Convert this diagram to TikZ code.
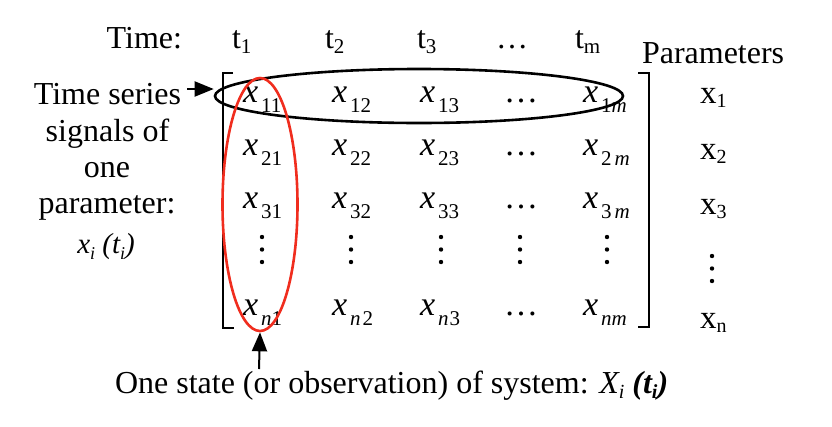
\documentclass[tikz,border=0pt]{standalone}
\usepackage{fontspec}
\setmainfont{Liberation Serif}
\usetikzlibrary{shapes.geometric,arrows.meta}
\newcommand\fs[1]{\fontsize{#1}{#1}\selectfont}
\newcommand\mx[1]{{\fs{34}\itshape x}\kern3pt\raisebox{-10pt}{\fs{21}#1}}
\newcommand\px[1]{{\fs{33}x}\raisebox{-4pt}{\fs{20}#1}}
\newcommand\tx[1]{{\fs{32}t}\raisebox{-5pt}{\fs{21}#1}}
\newcommand\hd{{\fs{34}\ldots}}
\begin{document}
\begin{tikzpicture}[x=1pt,y=-1pt,
  lbl/.style={inner sep=0pt, outer sep=0pt, anchor=base},
  ent/.style={inner sep=0pt, outer sep=0pt, anchor=base west},
  brk/.style={line width=1.8pt, black},
  arr/.style={line width=2pt, -{Triangle[length=19pt,width=15pt]}},
  rowring/.style={ellipse, draw=black, line width=2.6pt, inner sep=0pt},
  colring/.style={ellipse, draw=redring, line width=2.6pt, inner sep=0pt},
  vdot/.style={fill=black}]
\definecolor{redring}{RGB}{240,45,30}
\path[use as bounding box] (0,0) rectangle (832,426);
% header
\node[lbl, anchor=base east] (time) at (182,48) {\fs{32}Time:};
\node[ent] (t1) at (232,48) {\tx{1}};
\node[ent] (t2) at (325,48) {\tx{2}};
\node[ent] (t3) at (417,48) {\tx{3}};
\node[ent] (tdots) at (496,48) {\fs{32}\ldots};
\node[ent] (tm) at (575,48) {\tx{m}};
\node[ent] (params) at (642,63) {\fs{32}Parameters};
% left text
\node[lbl] (l1) at (107.5,104) {\fs{32}Time series};
\node[lbl] (l2) at (107.5,141) {\fs{32}signals of};
\node[lbl] (l3) at (107,177) {\fs{32}one};
\node[lbl] (l4) at (107,213) {\fs{32}parameter:};
\node[lbl] (l5) at (106,253) {\fs{29}\itshape x\raisebox{-6pt}{\fs{18}i} (t\raisebox{-6pt}{\fs{18}i})};
% matrix entries
\node[ent] (e11) at (243,102) {\mx{11}};
\node[ent] (e12) at (332,102) {\mx{12}};
\node[ent] (e13) at (420,102) {\mx{13}};
\node[ent] (e14) at (504,102) {\hd};
\node[ent] (e15) at (583,102) {\mx{1{\itshape m}}};
\node[ent] (e21) at (243,155) {\mx{21}};
\node[ent] (e22) at (332,155) {\mx{22}};
\node[ent] (e23) at (420,155) {\mx{23}};
\node[ent] (e24) at (504,155) {\hd};
\node[ent] (e25) at (583,155) {\mx{2\kern3pt{\itshape m}}};
\node[ent] (e31) at (243,208) {\mx{31}};
\node[ent] (e32) at (332,208) {\mx{32}};
\node[ent] (e33) at (420,208) {\mx{33}};
\node[ent] (e34) at (504,208) {\hd};
\node[ent] (e35) at (583,208) {\mx{3\kern3pt{\itshape m}}};
\node[ent] (en1) at (243,315) {\mx{{\itshape n}1}};
\node[ent] (en2) at (332,315) {\mx{{\itshape n}\kern2pt 2}};
\node[ent] (en3) at (420,315) {\mx{{\itshape n}\kern1pt 3}};
\node[ent] (en4) at (504,315) {\hd};
\node[ent] (en5) at (583,315) {\mx{{\itshape nm}}};
% vertical dots
\foreach \cx in {262,351,441,520,607}{
  \foreach \cy in {237,249.5,262}{\fill[vdot] (\cx,\cy) circle (2.2);}}
\foreach \cy in {256,268.5,281}{\fill[vdot] (712,\cy) circle (2.2);}
% parameters column
\node[ent] (p1) at (700,103) {\px{1}};
\node[ent] (p2) at (700,159) {\px{2}};
\node[ent] (p3) at (700,214) {\px{3}};
\node[ent] (pn) at (700,328) {\px{n}};
% brackets
\draw[brk] (233,73) -- (223,73) -- (223,328) -- (234,328);
\draw[brk] (638,73) -- (649,73) -- (649,327) -- (638,327);
% rings
\node[rowring, minimum width=408pt, minimum height=54pt] (rowell) at (419,96) {};
\node[colring, minimum width=75pt, minimum height=253pt] (colell) at (260,204.5) {};
% caption
\node[ent] (caption) at (115,393) {\fs{32}One state (or observation) of system: {\itshape X\raisebox{-5pt}{\fs{20}i}} {\bfseries\itshape (t\raisebox{-5pt}{\fs{20}i})}};
% arrows
\coordinate (ltail) at (187,89);
\coordinate (btail) at (259,369);
\draw[arr] (ltail) -- (rowell.west |- ltail);
\draw[arr] (btail) -- (colell.south);
\end{tikzpicture}
\end{document}
